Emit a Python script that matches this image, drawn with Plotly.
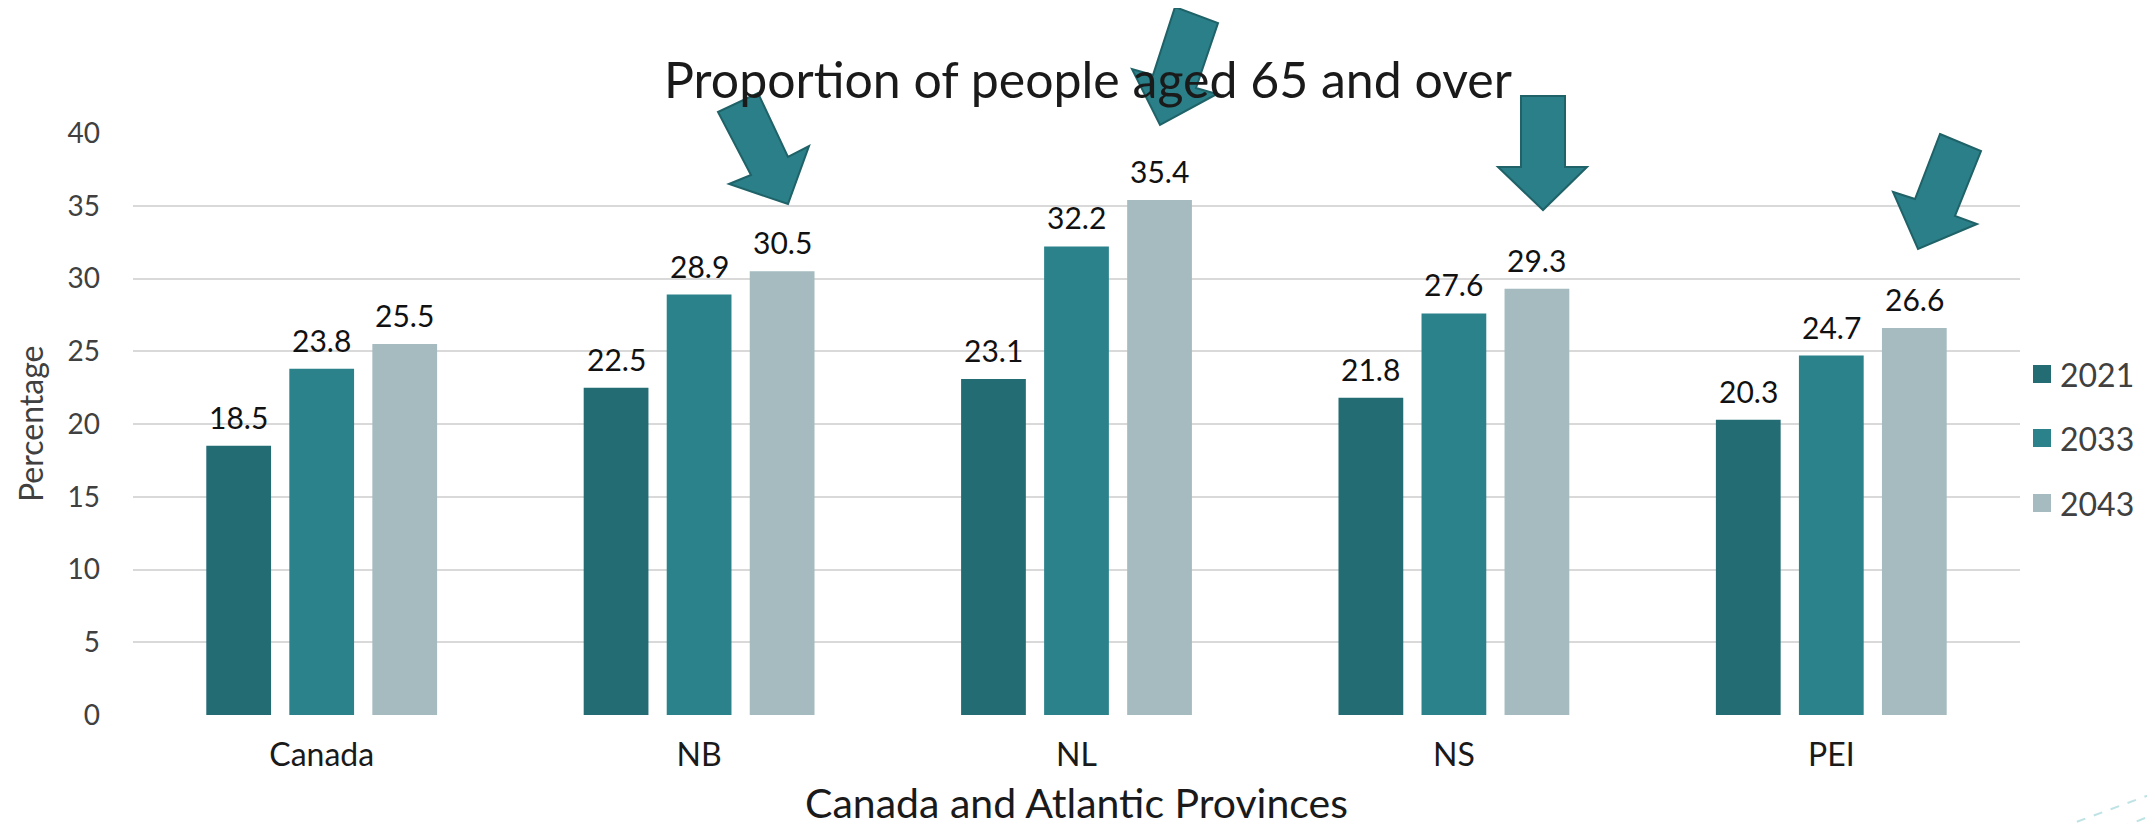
import plotly.graph_objects as go

# ---------------- data ----------------
categories = ["Canada", "NB", "NL", "NS", "PEI"]
series_names = ["2021", "2033", "2043"]
values_2021 = [18.5, 22.5, 23.1, 21.8, 20.3]
values_2033 = [23.8, 28.9, 32.2, 27.6, 24.7]
values_2043 = [25.5, 30.5, 35.4, 29.3, 26.6]
y_tick_values = [0, 5, 10, 15, 20, 25, 30, 35, 40]

title_text = "Proportion of people aged 65 and over"
x_title = "Canada and Atlantic Provinces"
y_title = "Percentage"

# ---------------- style ----------------
colors = ["#236c74", "#2b828b", "#a5bbbf"]
FONT = "Lato"
W, H = 2155, 824
OFF = 8                      # page body margin
PW, PH = 1887, 582           # plot area size
L, T = 133 - OFF, 133 - OFF
R, B = W - L - PW, H - T - PH
BARGAP = 0.34
BARGROUPGAP = 0.22


def px(x, y):
    """page pixel position -> paper coordinates (decorations only)"""
    return (x - OFF - L) / PW, (H - B - (y - OFF)) / PH


series_values = [values_2021, values_2033, values_2043]

fig = go.Figure()
for name, vals, col in zip(series_names, series_values, colors):
    fig.add_trace(go.Bar(
        name=name, x=categories, y=vals,
        marker=dict(color=col, line=dict(width=0)),
        showlegend=False,
    ))

shapes = []
annotations = []

# value labels above bars
n = len(series_names)
slot_px = PW / len(categories) * (1 - BARGAP) / n
for j, vals in enumerate(series_values):
    for cat, v in zip(categories, vals):
        annotations.append(dict(
            x=cat, y=v, xref="x", yref="y", text=f"{v:.1f}", showarrow=False,
            xanchor="center", yanchor="bottom", xshift=(j - (n - 1) / 2) * slot_px, yshift=9,
            font=dict(family=FONT, size=30, color="#111111")))

# y axis title (placed explicitly)
ytx, _ = px(30, 424)
annotations.append(dict(text=y_title, xref="paper", yref="paper", x=ytx, y=0.5,
                        xanchor="center", yanchor="middle", textangle=-90, showarrow=False,
                        font=dict(family=FONT, size=32, color="#404040")))

# manual legend (larger swatches, wide spacing)
legend_y = [374, 438, 503]
for name, col, ly in zip(series_names, colors, legend_y):
    x0, y0 = px(2033, ly - 9)
    x1, y1 = px(2051, ly + 9)
    shapes.append(dict(type="rect", xref="paper", yref="paper", x0=x0, x1=x1, y0=y1, y1=y0,
                       fillcolor=col, line=dict(width=0), layer="above"))
    tx, ty = px(2058, ly)
    annotations.append(dict(text=name, xref="paper", yref="paper", x=tx, y=ty,
                            xanchor="left", yanchor="middle", showarrow=False,
                            font=dict(family=FONT, size=32, color="#404040")))

# decorative block arrows (page pixel outlines)
arrows = [
    [(718, 112), (758, 93), (788, 157), (809, 146), (788, 204), (729, 184), (751, 175)],
    [(1175, 7), (1218, 23), (1196, 88), (1217, 94), (1160, 125), (1132, 69), (1153, 75)],
    [(1521, 96), (1565, 96), (1565, 167), (1587, 167), (1543, 210), (1498, 167), (1521, 167)],
    [(1940, 134), (1981, 151), (1955, 216), (1977, 224), (1918, 249), (1893, 192), (1915, 199)],
]
for poly in arrows:
    pts = [px(x, y) for x, y in poly]
    path = "M " + " L ".join(f"{a:.5f},{b:.5f}" for a, b in pts) + " Z"
    shapes.append(dict(type="path", xref="paper", yref="paper", path=path,
                       fillcolor="#2a7f88", line=dict(color="#1f6268", width=2), layer="above"))

# decorative dashed lines bottom-right corner
for (xa, ya, xb, yb) in [(2060, 828, 2160, 791), (2120, 828, 2160, 812)]:
    a0, b0 = px(xa, ya)
    a1, b1 = px(xb, yb)
    shapes.append(dict(type="line", xref="paper", yref="paper", x0=a0, y0=b0, x1=a1, y1=b1,
                       line=dict(color="#bfe3e4", width=2, dash="dash"), layer="above"))

fig.update_layout(
    width=W, height=H,
    margin=dict(l=L, r=R, t=T, b=B, autoexpand=False),
    paper_bgcolor="white", plot_bgcolor="white",
    barmode="group", bargap=BARGAP, bargroupgap=BARGROUPGAP,
    font=dict(family=FONT, color="#404040"),
    title=dict(text=title_text, x=(1088 - OFF) / W, xanchor="center", y=1 - (80 - OFF) / H,
               yanchor="middle", yref="container",
               font=dict(family=FONT, size=50, color="#1a1a1a")),
    xaxis=dict(
        showgrid=False, showline=False, zeroline=False, ticks="",
        tickfont=dict(family=FONT, size=32, color="#1a1a1a"),
        ticklabelstandoff=18,
        title=dict(text=x_title, font=dict(family=FONT, size=41, color="#1a1a1a"), standoff=17),
    ),
    yaxis=dict(
        range=[0, 40], tickvals=y_tick_values, showgrid=True, gridcolor="#d9d9d9", gridwidth=2,
        zeroline=False, showline=False, ticks="",
        tickfont=dict(family=FONT, size=28, color="#404040"),
        ticklabelstandoff=32,
    ),
    shapes=shapes,
    annotations=annotations,
)

fig.write_html("out.html")
